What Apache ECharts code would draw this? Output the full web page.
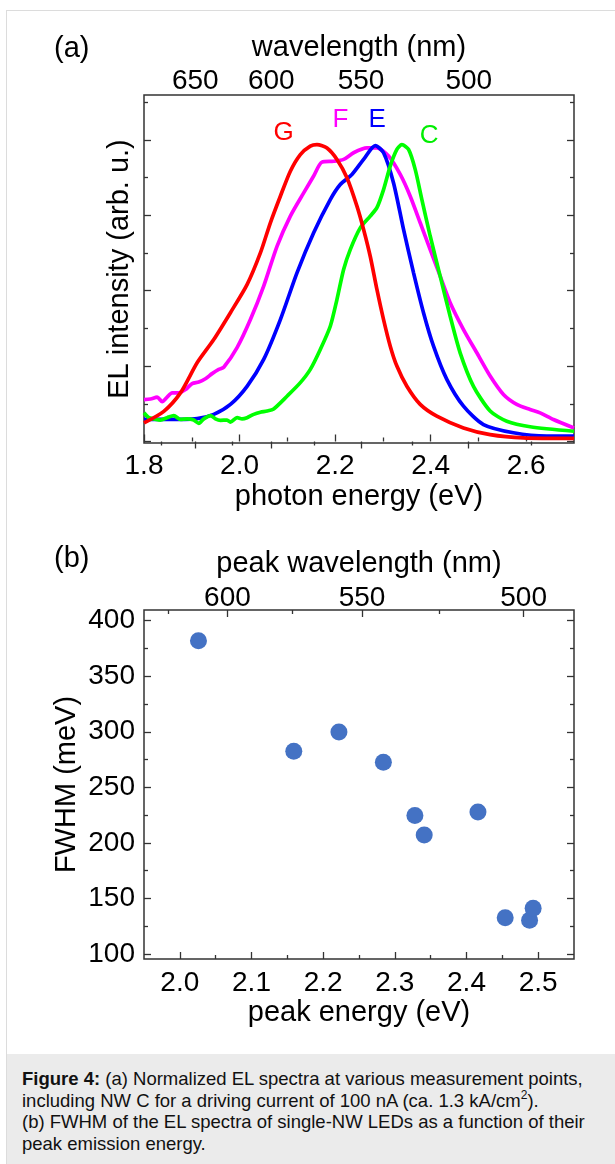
<!DOCTYPE html>
<html>
<head>
<meta charset="utf-8">
<script src="https://cdn.jsdelivr.net/npm/echarts@6/dist/echarts.min.js"></script>
<style>
  html, body { margin:0; padding:0; background:#fff; width:615px; height:1164px; overflow:hidden; }
  #frame { position:absolute; left:6px; top:10px; width:640px; height:1200px; border:1px solid #dcdcdc; box-sizing:border-box; }
  #chart { position:absolute; left:0; top:0; width:615px; height:1054px; }
  #cap { position:absolute; left:7px; top:1054px; width:608px; height:110px; background:#ebebeb;
         font-family:'Liberation Sans', Arial, Helvetica, sans-serif; font-size:18.5px; line-height:21.5px;
         color:#111; padding:14px 0 0 15px; box-sizing:border-box; white-space:nowrap; }
  #cap sup { font-size:12px; line-height:0; vertical-align:8px; }
</style>
</head>
<body>
<div id="frame"></div>
<div id="chart"></div>
<div id="cap"><b>Figure 4:</b> (a) Normalized EL spectra at various measurement points,<br>including NW C for a driving current of 100 nA (ca. 1.3 kA/cm<sup>2</sup>).<br>(b) FWHM of the EL spectra of single-NW LEDs as a function of their<br>peak emission energy.</div>
<script>
// ---------- data ----------
const HC = 1239.84; // eV*nm

// panel (a): normalized EL spectra (photon energy in eV, intensity normalized)
const G_E = [1.800,1.8415,1.8763,1.9112,1.9460,1.9809,2.0157,2.0436,2.0645,2.0854,2.1063,2.1272,2.1481,2.1620,2.1830,2.2039,2.2248,2.2457,2.2596,2.2735,2.2875,2.3014,2.3154,2.3293,2.3502,2.3781,2.4129,2.4687,2.5245,2.5941,2.700];
const G_I = [0.062,0.100,0.161,0.261,0.338,0.427,0.520,0.625,0.725,0.813,0.896,0.951,0.979,0.984,0.973,0.935,0.874,0.780,0.703,0.614,0.504,0.404,0.316,0.250,0.183,0.123,0.084,0.045,0.023,0.012,0.010];

const E_E = [1.800,1.8415,1.9112,1.9460,1.9809,2.0157,2.0505,2.0854,2.1202,2.1551,2.1899,2.2108,2.2352,2.2596,2.2840,2.3014,2.3223,2.3432,2.3642,2.3850,2.4060,2.4338,2.4687,2.5105,2.5732,2.6429,2.700];
const E_I = [0.073,0.073,0.076,0.090,0.123,0.183,0.272,0.404,0.559,0.692,0.802,0.852,0.885,0.935,0.981,0.957,0.857,0.703,0.559,0.427,0.316,0.206,0.117,0.056,0.029,0.018,0.018];

const C_E = [1.800,1.8101,1.8206,1.8345,1.8484,1.8624,1.8763,1.8903,1.9042,1.9146,1.9251,1.9390,1.9495,1.9599,1.9739,1.9809,1.9948,2.0053,2.0157,2.0296,2.0436,2.0575,2.0714,2.0993,2.1272,2.1481,2.1690,2.1899,2.2039,2.2178,2.2317,2.2526,2.2735,2.2875,2.3014,2.3154,2.3293,2.3398,2.3537,2.3676,2.3816,2.3990,2.4199,2.4408,2.4617,2.4896,2.5245,2.5593,2.6081,2.700];
const C_I = [0.095,0.079,0.075,0.071,0.079,0.086,0.073,0.075,0.071,0.060,0.075,0.086,0.075,0.070,0.071,0.064,0.079,0.075,0.079,0.090,0.097,0.101,0.108,0.150,0.195,0.239,0.305,0.382,0.471,0.570,0.636,0.708,0.747,0.775,0.835,0.913,0.968,0.984,0.968,0.902,0.802,0.681,0.548,0.415,0.294,0.183,0.101,0.067,0.049,0.034];

const F_E = [1.800,1.8136,1.8275,1.8380,1.8484,1.8589,1.8728,1.8868,1.9007,1.9146,1.9286,1.9425,1.9565,1.9669,1.9948,2.0227,2.0505,2.0784,2.1063,2.1342,2.1551,2.1725,2.1969,2.2178,2.2387,2.2666,2.2875,2.3119,2.3363,2.3572,2.3781,2.3990,2.4199,2.4408,2.4687,2.4966,2.5245,2.5523,2.5802,2.6081,2.6290,2.6569,2.700];
const F_I = [0.139,0.141,0.147,0.132,0.147,0.161,0.161,0.172,0.192,0.197,0.208,0.225,0.239,0.246,0.311,0.404,0.515,0.647,0.747,0.824,0.880,0.926,0.929,0.935,0.957,0.973,0.973,0.946,0.885,0.813,0.725,0.636,0.548,0.460,0.371,0.294,0.217,0.156,0.123,0.106,0.095,0.073,0.045];

// panel (b): peak energy (eV) vs FWHM (meV)
const PEAK_E = [2.026, 2.159, 2.222, 2.284, 2.328, 2.341, 2.416, 2.454, 2.488, 2.493];
const FWHM   = [382.0, 282.5, 299.9, 272.6, 224.7, 207.0, 227.7, 132.7, 130.3, 141.1];

// tick values
const A_E_LABELS = [1.8, 2.0, 2.2, 2.4, 2.6];
const A_E_MINOR  = [1.9, 2.1, 2.3, 2.5];
const A_WL_MAJOR = [650, 600, 550, 500];
const A_WL_MINOR = [675, 625, 575, 525, 475];
const A_I_MAJOR  = [0, 0.25, 0.5, 0.75, 1.0];
const A_I_MINOR  = [0.125, 0.375, 0.625, 0.875, 1.125];
const B_E_LABELS = [2.0, 2.1, 2.2, 2.3, 2.4, 2.5];
const B_E_MINOR  = [2.05, 2.15, 2.25, 2.35, 2.45];
const B_WL_MAJOR = [600, 550, 500];
const B_WL_MINOR = [625, 575, 525];
const B_F_LABELS = [100, 150, 200, 250, 300, 350, 400];
const B_F_MINOR  = [125, 175, 225, 275, 325, 375];

const CURVE_NAMES = ['G', 'F', 'E', 'C'];

// ---------- chart ----------
const FONT = "'Liberation Sans', Arial, Helvetica, sans-serif";
const AXC = '#333';
const TICK_FS = 28, NAME_FS = 29;
const zip = (a, b) => a.map((v, i) => [v, b[i]]);
const toE = wl => HC / wl;

function ax(grid, pos, min, max, ticks, len, labels, fmt, name, nameGap, labelMargin) {
  const o = {
    type: 'value', gridIndex: grid, position: pos, min: min, max: max,
    axisLine: { show: false },
    splitLine: { show: false },
    axisTick: { show: true, inside: true, length: len, customValues: ticks, lineStyle: { color: AXC, width: 1.3 } },
    axisLabel: labels ? { show: true, customValues: labels, formatter: fmt, fontSize: TICK_FS, color: '#000', fontFamily: FONT, margin: labelMargin } : { show: false }
  };
  if (name) {
    o.name = name; o.nameLocation = 'middle'; o.nameGap = nameGap; o.nameMoveOverlap = false;
    o.nameTextStyle = { fontSize: NAME_FS, color: '#000', fontFamily: FONT };
  }
  return o;
}

const f1 = v => v.toFixed(1);
const fwl = v => String(Math.round(HC / v));
const f0 = v => String(Math.round(v));

const A_XMIN = 1.8, A_XMAX = 2.7, A_YMIN = -0.005, A_YMAX = 1.1485;
const B_XMIN = 1.95, B_XMAX = 2.55, B_YMIN = 95.5, B_YMAX = 409.6;

const option = {
  animation: false,
  backgroundColor: 'transparent',
  grid: [
    { left: 144, top: 95, width: 430, height: 348, show: true, borderColor: AXC, borderWidth: 1.5, backgroundColor: 'transparent' },
    { left: 144, top: 610, width: 430, height: 349, show: true, borderColor: AXC, borderWidth: 1.5, backgroundColor: 'transparent' }
  ],
  xAxis: [
    ax(0, 'bottom', A_XMIN, A_XMAX, A_E_LABELS, 7, A_E_LABELS, f1, 'photon energy (eV)', 39, 9),
    ax(0, 'bottom', A_XMIN, A_XMAX, A_E_MINOR, 4, null),
    ax(0, 'top', A_XMIN, A_XMAX, A_WL_MAJOR.map(toE), 7, A_WL_MAJOR.map(toE), fwl, 'wavelength (nm)', 33, 0),
    ax(0, 'top', A_XMIN, A_XMAX, A_WL_MINOR.map(toE), 4, null),
    ax(1, 'bottom', B_XMIN, B_XMAX, B_E_LABELS, 7, B_E_LABELS, f1, 'peak energy (eV)', 39, 10),
    ax(1, 'bottom', B_XMIN, B_XMAX, B_E_MINOR, 4, null),
    ax(1, 'top', B_XMIN, B_XMAX, B_WL_MAJOR.map(toE), 7, B_WL_MAJOR.map(toE), fwl, 'peak wavelength (nm)', 32, -2),
    ax(1, 'top', B_XMIN, B_XMAX, B_WL_MINOR.map(toE), 4, null)
  ],
  yAxis: [
    ax(0, 'left', A_YMIN, A_YMAX, A_I_MAJOR, 7, null, null, 'EL intensity (arb. u.)', 10),
    ax(0, 'left', A_YMIN, A_YMAX, A_I_MINOR, 4, null),
    ax(0, 'right', A_YMIN, A_YMAX, A_I_MAJOR, 7, null),
    ax(0, 'right', A_YMIN, A_YMAX, A_I_MINOR, 4, null),
    ax(1, 'left', B_YMIN, B_YMAX, B_F_LABELS, 7, B_F_LABELS, f0, 'FWHM (meV)', 63, 9),
    ax(1, 'left', B_YMIN, B_YMAX, B_F_MINOR, 4, null),
    ax(1, 'right', B_YMIN, B_YMAX, B_F_LABELS, 7, null),
    ax(1, 'right', B_YMIN, B_YMAX, B_F_MINOR, 4, null)
  ],
  series: [
    { name: 'F', type: 'line', xAxisIndex: 0, yAxisIndex: 0, data: zip(F_E, F_I), showSymbol: false, smooth: 0.25, lineStyle: { color: '#FF00FF', width: 3.7 } },
    { name: 'E', type: 'line', xAxisIndex: 0, yAxisIndex: 0, data: zip(E_E, E_I), showSymbol: false, smooth: 0.25, lineStyle: { color: '#0000FF', width: 3.7 } },
    { name: 'C', type: 'line', xAxisIndex: 0, yAxisIndex: 0, data: zip(C_E, C_I), showSymbol: false, smooth: 0.25, lineStyle: { color: '#00FF00', width: 3.7 } },
    { name: 'G', type: 'line', xAxisIndex: 0, yAxisIndex: 0, data: zip(G_E, G_I), showSymbol: false, smooth: 0.25, lineStyle: { color: '#FF0000', width: 3.7 } },
    { name: 'FWHM', type: 'scatter', xAxisIndex: 4, yAxisIndex: 4, data: zip(PEAK_E, FWHM), symbol: 'circle', symbolSize: 17, itemStyle: { color: '#4472C4', opacity: 1 } }
  ]
};

const chart = echarts.init(document.getElementById('chart'), null, { renderer: 'canvas', width: 615, height: 1054 });
chart.setOption(option);

// curve labels anchored in data coordinates of panel (a)
const LABEL_ANCHORS = { G: [2.092, 1.024], F: [2.211, 1.067], E: [2.288, 1.067], C: [2.397, 1.014] };
const LABEL_COLORS = { G: '#FF0000', F: '#FF00FF', E: '#0000FF', C: '#00EE00' };
const graphics = CURVE_NAMES.map(n => {
  const p = chart.convertToPixel({ xAxisIndex: 0, yAxisIndex: 0 }, LABEL_ANCHORS[n]);
  return { type: 'text', x: p[0], y: p[1], style: { text: n, fill: LABEL_COLORS[n], fontSize: 26, fontFamily: FONT, align: 'center', verticalAlign: 'middle' } };
});
graphics.push({ type: 'text', left: 54, top: 34, style: { text: '(a)', fill: '#000', fontSize: 29, fontFamily: FONT } });
graphics.push({ type: 'text', left: 54, top: 544, style: { text: '(b)', fill: '#000', fontSize: 29, fontFamily: FONT } });
chart.setOption({ graphic: graphics });
</script>
</body>
</html>
